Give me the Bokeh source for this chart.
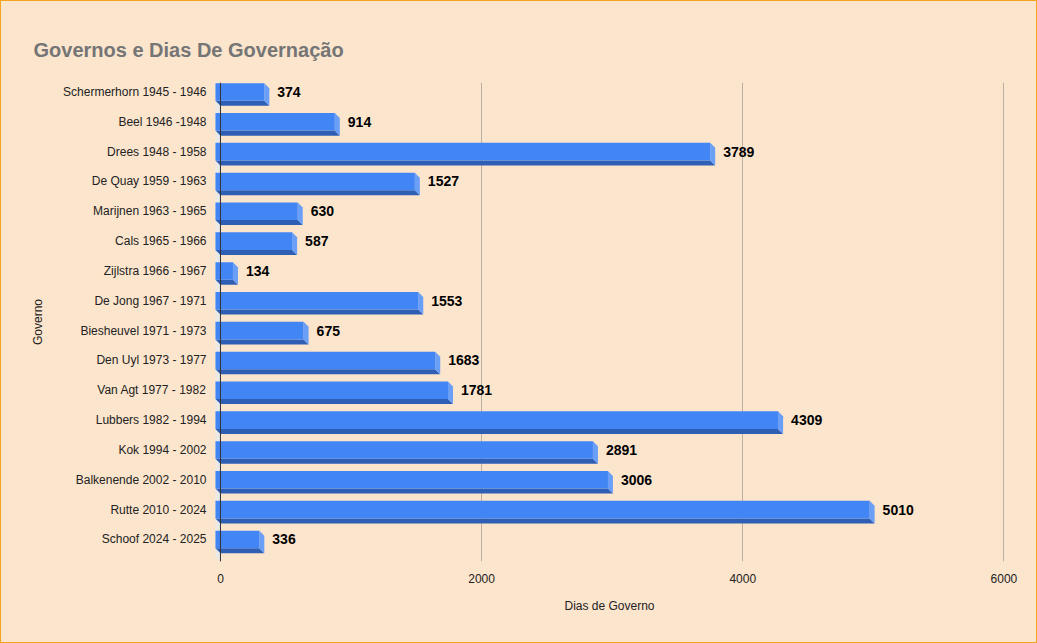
from bokeh.plotting import figure
from bokeh.models import Range1d, FixedTicker, Span, ColumnDataSource
from bokeh.core.properties import value
from bokeh.embed import file_html
from bokeh.resources import INLINE

# ---- data ----
governos = ["Schermerhorn 1945 - 1946", "Beel 1946 -1948", "Drees 1948 - 1958",
            "De Quay 1959 - 1963", "Marijnen 1963 - 1965", "Cals 1965 - 1966",
            "Zijlstra 1966 - 1967", "De Jong 1967 - 1971", "Biesheuvel 1971 - 1973",
            "Den Uyl 1973 - 1977", "Van Agt 1977 - 1982", "Lubbers 1982 - 1994",
            "Kok 1994 - 2002", "Balkenende 2002 - 2010", "Rutte 2010 - 2024",
            "Schoof 2024 - 2025"]
dias = [374, 914, 3789, 1527, 630, 587, 134, 1553, 675, 1683, 1781, 4309,
        2891, 3006, 5010, 336]
x_ticks = [0, 2000, 4000, 6000]

# ---- styling / 3D geometry ----
BG = "#fce5cd"
FRONT = "#4285f4"
BOTTOM = "#2f5fb5"
SIDE = "#6a9ff7"
DX = 38.3     # depth in x (data units ~5px)
DY = 0.168    # depth in y (row units ~5px)
H = 0.59      # bar height (row units)
Y_TOP, Y_BOT = -0.318, 15.74

n = len(dias)
idx = list(range(n))

p = figure(width=1037, height=643, output_backend="svg", toolbar_location=None,
           x_range=Range1d(-61, 6020), y_range=Range1d(Y_BOT, Y_TOP),
           min_border_left=212, min_border_right=31, min_border_top=82,
           min_border_bottom=82)
p.background_fill_color = BG
p.border_fill_color = BG
p.outline_line_color = None

# title
p.title.text = "Governos e Dias De Governação"
p.title.text_font = "Liberation Sans"
p.title.text_font_style = "bold"
p.title.text_font_size = "20px"
p.title.text_color = "#757575"
p.title.align = "left"
p.title.offset = -179
p.title.standoff = 43

# grid
p.ygrid.visible = False
p.xgrid.ticker = FixedTicker(ticks=x_ticks)
p.xgrid.grid_line_color = "#bdb0a2"

# side wall
p.patch([-DX, 0, 0, -DX], [Y_TOP - DY, Y_TOP, Y_BOT, Y_BOT - DY],
        fill_color="#ebe9e6", line_color=None)

# axis baseline
p.add_layout(Span(location=0, dimension="height", line_color="#333333", line_width=1))

# bars
front = ColumnDataSource(dict(
    left=[-DX] * n, right=[d - DX for d in dias],
    top=[i - H / 2 for i in idx], bottom=[i + H / 2 for i in idx]))
bottom_xs = [[-DX, d - DX, d, 0] for d in dias]
bottom_ys = [[i + H / 2, i + H / 2, i + H / 2 + DY, i + H / 2 + DY] for i in idx]
side_xs = [[d - DX, d, d, d - DX] for d in dias]
side_ys = [[i - H / 2, i - H / 2 + DY, i + H / 2 + DY, i + H / 2] for i in idx]
p.patches(bottom_xs, bottom_ys, fill_color=BOTTOM, line_color=None)
p.patches(side_xs, side_ys, fill_color=SIDE, line_color=None)
p.quad(left="left", right="right", top="top", bottom="bottom", source=front,
       fill_color=FRONT, line_color=None)

# value labels
lab = ColumnDataSource(dict(x=dias, y=idx, t=[str(d) for d in dias]))
p.text(x="x", y="y", text="t", source=lab, x_offset=8,
       text_baseline="middle", text_align="left",
       text_font=value("Liberation Sans"), text_font_style="bold",
       text_font_size="14px", text_color="#000000")

# axes
xa = p.xaxis[0]
xa.ticker = FixedTicker(ticks=x_ticks)
xa.axis_line_color = None
xa.major_tick_line_color = None
xa.minor_tick_line_color = None
xa.major_label_standoff = 6
xa.major_label_text_font = "Liberation Sans"
xa.major_label_text_font_size = "12px"
xa.major_label_text_color = "#222222"
xa.axis_label = "Dias de Governo"
xa.axis_label_text_font = "Liberation Sans"
xa.axis_label_text_font_size = "12px"
xa.axis_label_text_font_style = "normal"
xa.axis_label_text_color = "#222222"
xa.axis_label_standoff = 13

ya = p.yaxis[0]
ya.ticker = FixedTicker(ticks=idx)
ya.major_label_overrides = {i: g for i, g in zip(idx, governos)}
ya.axis_line_color = None
ya.major_tick_line_color = None
ya.minor_tick_line_color = None
ya.major_label_standoff = 0
ya.major_label_text_font = "Liberation Sans"
ya.major_label_text_font_size = "12px"
ya.major_label_text_color = "#222222"
ya.axis_label = "Governo"
ya.axis_label_text_font = "Liberation Sans"
ya.axis_label_text_font_size = "12px"
ya.axis_label_text_font_style = "normal"
ya.axis_label_text_color = "#222222"
ya.axis_label_standoff = 15

html = file_html(p, INLINE)
html = html.replace(
    "</head>",
    "<style>html,body{margin:0;padding:0;background:%s;}</style></head>" % BG, 1)
html = html.replace(
    "</body>",
    '<div style="position:fixed;left:0;top:0;width:1037px;height:643px;'
    'box-sizing:border-box;border:1px solid #f4a41c;pointer-events:none;'
    'z-index:10"></div></body>', 1)
open("out.html", "w").write(html)
